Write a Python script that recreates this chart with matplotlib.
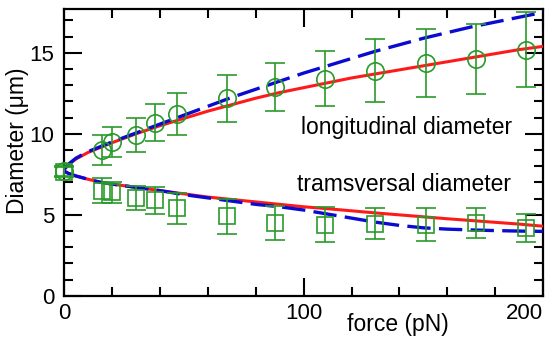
import matplotlib
matplotlib.use("Agg")
from matplotlib import pyplot as plt
from matplotlib.ticker import MultipleLocator

plt.rcParams['font.family'] = ['Liberation Sans', 'DejaVu Sans']

# measured points (force in pN, diameter in um)
force = [0, 16, 20, 30, 38, 47, 68, 88, 109, 130, 151, 172, 193]
long_diam = [7.7, 9.0, 9.5, 9.9, 10.7, 11.2, 12.2, 12.9, 13.4, 13.9, 14.4, 14.6, 15.2]
long_err = [0.3, 0.9, 0.9, 1.05, 1.15, 1.3, 1.45, 1.5, 1.7, 1.95, 2.1, 2.15, 2.3]
trans_diam = [7.65, 6.5, 6.4, 6.05, 5.9, 5.4, 4.9, 4.5, 4.4, 4.45, 4.4, 4.5, 4.2]
trans_err = [0.3, 0.75, 0.65, 0.75, 0.85, 0.95, 1.05, 1.05, 1.1, 0.95, 1.0, 0.9, 0.85]

# model curves
curve_force = [0, 2, 5, 10, 15, 20, 30, 40, 50, 60, 70, 80, 90, 100, 110, 120, 130,
               140, 150, 160, 170, 180, 190, 200]
red_long = [7.8, 8.1, 8.45, 8.85, 9.15, 9.45, 10.0, 10.5, 10.95, 11.4, 11.8, 12.2, 12.55,
            12.85, 13.15, 13.45, 13.7, 13.95, 14.2, 14.45, 14.7, 14.95, 15.2, 15.4]
blue_long = [7.8, 8.15, 8.5, 8.9, 9.2, 9.5, 10.05, 10.6, 11.15, 11.7, 12.25, 12.75, 13.25,
             13.75, 14.2, 14.65, 15.1, 15.5, 15.9, 16.25, 16.6, 16.9, 17.2, 17.5]
red_trans = [7.7, 7.55, 7.4, 7.2, 7.02, 6.9, 6.7, 6.5, 6.3, 6.1, 5.95, 5.8, 5.65, 5.5,
             5.38, 5.25, 5.12, 5.0, 4.88, 4.76, 4.65, 4.54, 4.43, 4.3]
blue_trans = [7.7, 7.55, 7.4, 7.2, 7.02, 6.9, 6.7, 6.5, 6.25, 6.05, 5.85, 5.65, 5.5, 5.3,
              5.05, 4.8, 4.55, 4.35, 4.2, 4.12, 4.07, 4.03, 4.0, 3.98]

x_ticks = [0, 100, 200]
x_ticklabels = ['0', '100', '200']

green = '#2a9a2a'

fig = plt.figure(figsize=(5.47, 3.37), dpi=100)
ax = fig.add_axes([0.117, 0.122, 0.876, 0.851])

ax.plot(curve_force, red_long, color='#ff1a1a', lw=2.2, zorder=3)
ax.plot(curve_force, red_trans, color='#ff1a1a', lw=2.2, zorder=3)
ax.plot(curve_force, blue_long, color='#0a0ad0', lw=2.4, dashes=(7, 2.5), zorder=4)
ax.plot(curve_force, blue_trans, color='#0a0ad0', lw=2.4, dashes=(7, 2.5), zorder=4)

ax.errorbar(force, long_diam, yerr=long_err, fmt='o', ms=12.5, mfc='none', mec=green,
            mew=1.2, ecolor=green, elinewidth=1.2, capsize=7, capthick=1.2, zorder=5, clip_on=False)
ax.errorbar(force, trans_diam, yerr=trans_err, fmt='s', ms=11, mfc='none', mec=green,
            mew=1.2, ecolor=green, elinewidth=1.2, capsize=7, capthick=1.2, zorder=5, clip_on=False)

ax.text(143, 10.4, 'longitudinal diameter', fontsize=16.5, ha='center', va='center')
ax.text(142, 6.85, 'tramsversal diameter', fontsize=16.5, ha='center', va='center')

ax.set_xlim(0, 200)
ax.set_ylim(0, 17.7)
ax.set_xticks(x_ticks, x_ticklabels)
ax.xaxis.set_minor_locator(MultipleLocator(20))
ax.yaxis.set_major_locator(MultipleLocator(5))
ax.yaxis.set_minor_locator(MultipleLocator(1))
ax.tick_params(which='both', direction='in', top=True, right=True, width=1.5, labelsize=16)
ax.tick_params(axis='x', pad=5)
ax.tick_params(axis='y', pad=7)
ax.tick_params(which='major', length=13)
ax.tick_params(which='minor', length=6.5)
for s in ax.spines.values():
    s.set_linewidth(1.6)

for lab in ax.get_xticklabels():
    if lab.get_text() == '200':
        lab.set_horizontalalignment('right')

ax.set_xlabel('force (pN)', fontsize=16.5)
ax.xaxis.set_label_coords(0.696, -0.06)
ax.set_ylabel('Diameter (\u03bcm)', fontsize=16.5)
ax.yaxis.set_label_coords(-0.072, 0.54)

plt.savefig('out.png', dpi=100)
